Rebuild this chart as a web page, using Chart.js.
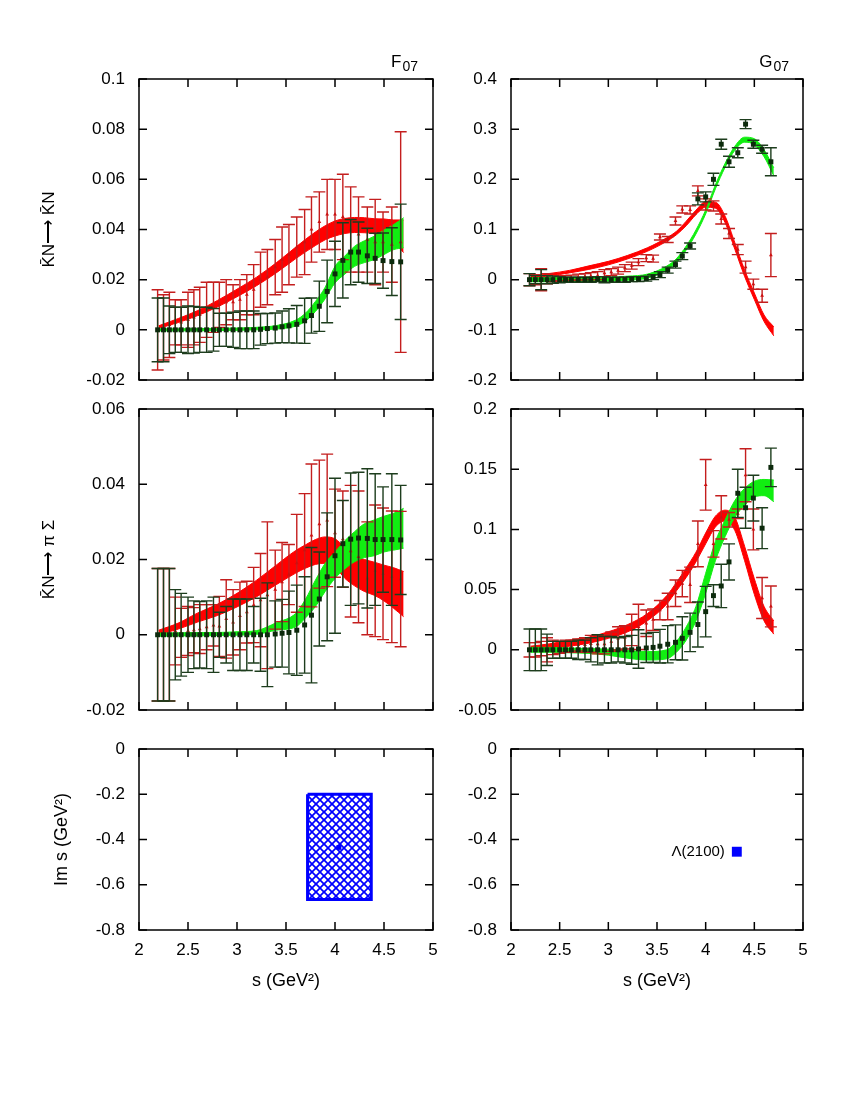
<!DOCTYPE html>
<html>
<head>
<meta charset="utf-8">
<script src="https://cdn.jsdelivr.net/npm/chart.js@4.4.1/dist/chart.umd.min.js"></script>
<style>
  body { margin: 0; background: #fff; }
  #page { position: relative; width: 850px; height: 1100px; }
  #page canvas { position: absolute; left: 0; top: 0; }
</style>
</head>
<body>
<div id="page">
  <canvas id="fNN" width="850" height="1100"></canvas>
  <canvas id="gNN" width="850" height="1100"></canvas>
  <canvas id="fPS" width="850" height="1100"></canvas>
  <canvas id="gPS" width="850" height="1100"></canvas>
  <canvas id="fPole" width="850" height="1100"></canvas>
  <canvas id="gPole" width="850" height="1100"></canvas>
</div>
<script>
// energies of the data points (s in GeV^2) and of the band samples
var sPoints = [2.19, 2.25, 2.31, 2.37, 2.43, 2.50, 2.56, 2.62, 2.69, 2.76, 2.82, 2.89, 2.96, 3.03, 3.10, 3.17, 3.24, 3.31,
  3.39, 3.46, 3.53, 3.61, 3.69, 3.76, 3.84, 3.92, 4.00, 4.08, 4.16, 4.24, 4.33, 4.41, 4.49, 4.58, 4.67];
var sBand = [2.2, 2.4, 2.6, 2.8, 3.0, 3.2, 3.4, 3.6, 3.7, 3.8, 3.9, 4.0, 4.1, 4.2, 4.3, 4.4, 4.5, 4.6, 4.7];

// F07, KbarN -> KbarN
var fNNRed = [0, 0.001, 0.002, 0.003, 0.003, 0.004, 0.005, 0.006, 0.008, 0.009, 0.010, 0.011, 0.011, 0.012, 0.014, 0.016, 0.020, 0.021,
  0.025, 0.028, 0.030, 0.033, 0.035, 0.040, 0.043, 0.046, 0.046, 0.045, 0.040, 0.038, 0.036, 0.035, 0.035, 0.034, 0.035];
var fNNRedErr = [0.016, 0.013, 0.013, 0.009, 0.009, 0.011, 0.011, 0.011, 0.011, 0.010, 0.009, 0.009, 0.007, 0.008, 0.008, 0.010, 0.011, 0.011,
  0.011, 0.013, 0.012, 0.012, 0.013, 0.013, 0.012, 0.014, 0.014, 0.017, 0.017, 0.015, 0.013, 0.017, 0.012, 0.015, 0.044];
var fNNGreen = [0, 0, 0, 0, 0, 0, 0, 0, 0, 0, 0, 0, 0, 0, 0, 0, 0.0002, 0.0005,
  0.0007, 0.0012, 0.0016, 0.0022, 0.0036, 0.0057, 0.0094, 0.0153, 0.0223, 0.0277, 0.031, 0.031, 0.0295, 0.0285, 0.0276, 0.0272, 0.0271];
var fNNGreenErr = [0.0127, 0.0127, 0.0095, 0.009, 0.009, 0.0095, 0.0093, 0.009, 0.009, 0.0085, 0.0066, 0.0066, 0.007, 0.0075, 0.0075, 0.0075, 0.0063, 0.006,
  0.006, 0.0063, 0.0068, 0.0075, 0.009, 0.007, 0.010, 0.0125, 0.013, 0.015, 0.013, 0.012, 0.011, 0.010, 0.011, 0.0135, 0.023];
var fNNRedLo = [0.0006, 0.0029, 0.0057, 0.0091, 0.0132, 0.0176, 0.0227, 0.0284, 0.0311, 0.0336, 0.0359, 0.0374, 0.0384, 0.0388, 0.0387, 0.0383, 0.0368, 0.0348, 0.0308];
var fNNRedHi = [0.0016, 0.0045, 0.0077, 0.0117, 0.0162, 0.0210, 0.0267, 0.0330, 0.0361, 0.0390, 0.0415, 0.0434, 0.0444, 0.0448, 0.0447, 0.0443, 0.0442, 0.0438, 0.0438];
var fNNGreenLo = [-0.0004, -0.0004, -0.0004, -0.0003, -0.0002, 0.0000, 0.0003, 0.0015, 0.0035, 0.0073, 0.0124, 0.0187, 0.0222, 0.0253, 0.0268, 0.0280, 0.0300, 0.0320, 0.0327];
var fNNGreenHi = [0.0004, 0.0004, 0.0005, 0.0006, 0.0007, 0.0010, 0.0017, 0.0039, 0.0067, 0.0113, 0.0170, 0.0253, 0.0294, 0.0333, 0.0355, 0.0373, 0.0398, 0.0420, 0.0447];

// G07, KbarN -> KbarN
var gNNRed = [0, 0, 0, 0.002, 0.002, 0.003, 0.003, 0.004, 0.005, 0.006, 0.007, 0.008, 0.013, 0.015, 0.018, 0.023, 0.028, 0.035,
  0.043, 0.042, 0.085, 0.080, 0.117, 0.140, 0.139, 0.177, 0.150, 0.147, 0.121, 0.092, 0.060, 0.025, -0.009, -0.032, 0.049];
var gNNRedErr = [0.012, 0.010, 0.022, 0.010, 0.006, 0.005, 0.005, 0.005, 0.006, 0.006, 0.007, 0.008, 0.007, 0.007, 0.007, 0.007, 0.007, 0.007,
  0.007, 0.007, 0.006, 0.006, 0.008, 0.007, 0.008, 0.010, 0.011, 0.010, 0.010, 0.010, 0.010, 0.012, 0.010, 0.013, 0.043];
var gNNGreen = [0, 0, 0, 0, 0, 0, 0, 0, 0, 0, 0, 0.001, 0, 0, 0, 0, 0.001, 0.001,
  0.002, 0.005, 0.010, 0.019, 0.030, 0.047, 0.067, 0.161, 0.165, 0.200, 0.270, 0.235, 0.253, 0.310, 0.270, 0.260, 0.235];
var gNNGreenErr = [0.012, 0.008, 0.020, 0.008, 0.007, 0.006, 0.005, 0.005, 0.005, 0.005, 0.005, 0.005, 0.006, 0.005, 0.005, 0.005, 0.005, 0.005,
  0.005, 0.005, 0.006, 0.006, 0.007, 0.007, 0.006, 0.012, 0.010, 0.012, 0.010, 0.011, 0.010, 0.009, 0.008, 0.008, 0.028];
var gNNRedLo = [0.0035, 0.0075, 0.0135, 0.0205, 0.0295, 0.0415, 0.0565, 0.0765, 0.0895, 0.1075, 0.1295, 0.1445, 0.1425, 0.1135, 0.0605, 0.0065, -0.0395, -0.0835, -0.112];
var gNNRedHi = [0.0085, 0.0125, 0.0185, 0.0275, 0.0365, 0.0485, 0.0635, 0.0835, 0.0965, 0.1165, 0.1385, 0.1555, 0.1545, 0.1265, 0.0735, 0.0195, -0.0265, -0.0705, -0.094];
var gNNGreenLo = [-0.004, -0.004, -0.004, -0.003, -0.003, -0.001, 0.003, 0.019, 0.034, 0.059, 0.091, 0.131, 0.181, 0.224, 0.258, 0.274, 0.269, 0.245, 0.207];
var gNNGreenHi = [0.004, 0.004, 0.004, 0.005, 0.005, 0.007, 0.011, 0.027, 0.042, 0.067, 0.099, 0.139, 0.189, 0.232, 0.266, 0.284, 0.281, 0.259, 0.223];

// F07, KbarN -> pi Sigma
var fPSRed = [0, 0, 0, 0.0010, 0.0005, 0.0010, 0.0012, 0.0015, 0.0020, 0.0025, 0.0022, 0.0042, 0.0033, 0.0050, 0.0060, 0.0079, 0.0092, 0.0105,
  0.0120, 0.0140, 0.0160, 0.0190, 0.0225, 0.0264, 0.0294, 0.0304, 0.0270, 0.0254, 0.0222, 0.0207, 0.0150, 0.0170, 0.0162, 0.0154, 0.0148];
var fPSRedErr = [0.0176, 0.0176, 0.0176, 0.009, 0.0065, 0.0065, 0.006, 0.0065, 0.006, 0.0055, 0.008, 0.0104, 0.0087, 0.009, 0.0082, 0.010, 0.0124, 0.0195,
  0.0105, 0.0105, 0.008, 0.013, 0.015, 0.019, 0.017, 0.0176, 0.0117, 0.0128, 0.0175, 0.0175, 0.015, 0.0175, 0.0175, 0.0175, 0.018];
var fPSGreen = [0, 0, 0, 0, 0, 0, 0, 0, 0, 0, 0, 0, 0, 0, 0, 0, 0, 0,
  0.0002, 0.0004, 0.0006, 0.0012, 0.0026, 0.0052, 0.0095, 0.0154, 0.021, 0.0242, 0.0254, 0.0257, 0.0256, 0.0253, 0.0253, 0.0253, 0.0252];
var fPSGreenErr = [0.0176, 0.0176, 0.0176, 0.012, 0.011, 0.010, 0.009, 0.0088, 0.009, 0.010, 0.006, 0.0075, 0.0095, 0.0095, 0.0095, 0.0075, 0.0097, 0.0138,
  0.0088, 0.009, 0.011, 0.012, 0.0128, 0.018, 0.0125, 0.017, 0.0206, 0.0115, 0.0176, 0.0175, 0.0185, 0.0175, 0.014, 0.0175, 0.0145];
var fPSRedLo = [0.0000, 0.0015, 0.0034, 0.0051, 0.0074, 0.0101, 0.0133, 0.0164, 0.0177, 0.0187, 0.0190, 0.0180, 0.0150, 0.0130, 0.0115, 0.0105, 0.0090, 0.0070, 0.0048];
var fPSRedHi = [0.0012, 0.0031, 0.0058, 0.0081, 0.0110, 0.0145, 0.0185, 0.0224, 0.0239, 0.0253, 0.0260, 0.0255, 0.0232, 0.0210, 0.0200, 0.0193, 0.0185, 0.0178, 0.0168];
var fPSGreenLo = [-0.0004, -0.0003, -0.0003, -0.0002, -0.0001, 0.0001, 0.0012, 0.0021, 0.0045, 0.0075, 0.0115, 0.0150, 0.0175, 0.0194, 0.0205, 0.0210, 0.0220, 0.0225, 0.0230];
var fPSGreenHi = [0.0004, 0.0005, 0.0006, 0.0006, 0.0008, 0.0011, 0.0032, 0.0057, 0.0095, 0.0145, 0.0190, 0.0220, 0.0250, 0.0274, 0.0295, 0.0305, 0.0315, 0.0323, 0.0336];

// G07, KbarN -> pi Sigma
var gPSRed = [0, 0, 0.001, 0.0, 0.002, 0.002, 0.003, 0.003, 0.004, 0.004, 0.005, 0.0046, 0.0046, 0.0068, 0.0095, 0.0104, 0.0165, 0.019,
  0.022, 0.025, 0.033, 0.036, 0.047, 0.055, 0.054, 0.088, 0.137, 0.088, 0.110, 0.108, 0.113, 0.145, 0.100, 0.043, 0.036];
var gPSRedErr = [0.006, 0.006, 0.006, 0.010, 0.006, 0.005, 0.005, 0.005, 0.005, 0.006, 0.007, 0.008, 0.008, 0.008, 0.0097, 0.0097, 0.013, 0.0188,
  0.011, 0.009, 0.008, 0.011, 0.011, 0.011, 0.0147, 0.019, 0.021, 0.011, 0.018, 0.006, 0.004, 0.022, 0.017, 0.017, 0.017];
var gPSGreen = [0, 0, 0, 0, 0, 0, 0, 0, 0, 0, 0, 0, 0, 0, 0, 0, 0, 0.0007,
  0.0015, 0.002, 0.003, 0.0046, 0.0062, 0.0095, 0.0145, 0.021, 0.0317, 0.045, 0.053, 0.073, 0.130, 0.118, 0.126, 0.101, 0.1515];
var gPSGreenErr = [0.0173, 0.0173, 0.0173, 0.013, 0.007, 0.007, 0.007, 0.007, 0.008, 0.008, 0.010, 0.0125, 0.011, 0.011, 0.010, 0.011, 0.012, 0.016,
  0.012, 0.0125, 0.014, 0.0155, 0.0145, 0.018, 0.016, 0.0187, 0.021, 0.009, 0.018, 0.015, 0.020, 0.017, 0.019, 0.017, 0.016];
var gPSRedLo = [-0.001, 0.001, 0.003, 0.0055, 0.0095, 0.015, 0.024, 0.038, 0.049, 0.060, 0.073, 0.088, 0.102, 0.107, 0.099, 0.074, 0.046, 0.024, 0.013];
var gPSRedHi = [0.003, 0.005, 0.008, 0.0105, 0.015, 0.021, 0.030, 0.045, 0.056, 0.068, 0.081, 0.097, 0.111, 0.116, 0.110, 0.086, 0.059, 0.036, 0.024];
var gPSGreenLo = [-0.002, -0.002, -0.0025, -0.003, -0.0045, -0.007, -0.0085, -0.0075, -0.002, 0.008, 0.024, 0.047, 0.074, 0.094, 0.110, 0.120, 0.127, 0.128, 0.123];
var gPSGreenHi = [0.002, 0.002, 0.0015, 0.001, 0.0005, -0.0005, -0.0015, 0.0, 0.007, 0.019, 0.036, 0.0635, 0.090, 0.108, 0.124, 0.134, 0.140, 0.1415, 0.141];

// pole positions (Re s, Im s)
var poleBoxS = [3.72, 4.37];
var poleBoxIm = [-0.665, -0.2];
var poleF = { s: 4.04, im: -0.435 };
var poleG = { s: 4.32, im: -0.454 };

var RED_BAND = '#ff0000', GREEN_BAND = '#11ee11';
var RED_BAR = '#c41e1e', GREEN_BAR = '#1d3d1d';
var BLUE = '#0000ff';

Chart.defaults.font.family = '"Liberation Sans", Arial, Helvetica, sans-serif';
Chart.defaults.color = '#000';

function fmt(v) {
  return String(Math.round(v * 1000) / 1000);
}

function pts(xs, ys) {
  return xs.map(function (x, i) { return { x: x, y: ys[i] }; });
}

// error bars with caps, drawn just before the markers of their dataset
var errorBars = {
  id: 'errorBars',
  beforeDatasetDraw: function (chart, args) {
    var ds = chart.data.datasets[args.index];
    if (!ds.errors) return;
    var y = chart.scales.y, ctx = chart.ctx;
    ctx.save();
    ctx.strokeStyle = ds.errorColor;
    ctx.lineWidth = 1.4;
    args.meta.data.forEach(function (pt, i) {
      var v = ds.data[i].y, e = ds.errors[i];
      var top = y.getPixelForValue(v + e), bot = y.getPixelForValue(v - e);
      ctx.beginPath();
      ctx.moveTo(pt.x, top); ctx.lineTo(pt.x, bot);
      ctx.moveTo(pt.x - 6, top); ctx.lineTo(pt.x + 6, top);
      ctx.moveTo(pt.x - 6, bot); ctx.lineTo(pt.x + 6, bot);
      ctx.stroke();
    });
    ctx.restore();
  }
};

// gnuplot style box with inward ticks on all four sides
var frame = {
  id: 'frame',
  afterDraw: function (chart) {
    var a = chart.chartArea, ctx = chart.ctx, sx = chart.scales.x, sy = chart.scales.y;
    ctx.save();
    ctx.strokeStyle = '#000';
    ctx.lineWidth = 1.5;
    ctx.strokeRect(a.left, a.top, a.right - a.left, a.bottom - a.top);
    ctx.beginPath();
    sx.ticks.forEach(function (t) {
      var px = sx.getPixelForValue(t.value);
      ctx.moveTo(px, a.bottom); ctx.lineTo(px, a.bottom - 8);
      ctx.moveTo(px, a.top); ctx.lineTo(px, a.top + 8);
    });
    sy.ticks.forEach(function (t) {
      var py = sy.getPixelForValue(t.value);
      ctx.moveTo(a.left, py); ctx.lineTo(a.left + 8, py);
      ctx.moveTo(a.right, py); ctx.lineTo(a.right - 8, py);
    });
    ctx.stroke();
    ctx.restore();
  }
};

// panel titles and labels
var panelText = {
  id: 'panelText',
  afterDraw: function (chart, args, opts) {
    var ctx = chart.ctx, fam = Chart.defaults.font.family;
    ctx.save();
    ctx.fillStyle = '#000';
    (opts.items || []).forEach(function (it) {
      if (it.sub) {
        ctx.font = it.subSize + 'px ' + fam;
        var wSub = ctx.measureText(it.sub).width;
        ctx.textAlign = 'left';
        ctx.textBaseline = 'alphabetic';
        ctx.fillText(it.sub, it.right - wSub, it.base + 4);
        ctx.font = it.size + 'px ' + fam;
        ctx.textAlign = 'right';
        ctx.fillText(it.text, it.right - wSub - 1, it.base);
      } else if (it.at) {
        ctx.font = it.size + 'px ' + fam;
        ctx.textAlign = 'right';
        ctx.textBaseline = 'middle';
        ctx.fillText(it.text, chart.scales.x.getPixelForValue(it.at.s) + it.dx,
          chart.scales.y.getPixelForValue(it.at.im));
      } else {
        ctx.font = it.size + 'px ' + fam;
        ctx.textAlign = 'right';
        ctx.textBaseline = 'alphabetic';
        ctx.fillText(it.text, it.right, it.base);
      }
    });
    ctx.restore();
  }
};

function band(lo, hi, color) {
  return [
    { data: pts(sBand, lo), borderColor: color, borderWidth: 1, pointRadius: 0, fill: false,
      cubicInterpolationMode: 'monotone', order: color === RED_BAND ? 4 : 3 },
    { data: pts(sBand, hi), borderColor: color, borderWidth: 1, pointRadius: 0, fill: '-1',
      backgroundColor: color, cubicInterpolationMode: 'monotone', order: color === RED_BAND ? 4 : 3 }
  ];
}

function amplitudeSets(redV, redE, grnV, grnE, redLo, redHi, grnLo, grnHi) {
  return band(redLo, redHi, RED_BAND).concat(band(grnLo, grnHi, GREEN_BAND), [
    { data: pts(sPoints, redV), errors: redE, errorColor: RED_BAR, showLine: false,
      pointStyle: 'triangle', pointRadius: 2.2, backgroundColor: '#cc1111', borderWidth: 0, order: 2 },
    { data: pts(sPoints, grnV), errors: grnE, errorColor: GREEN_BAR, showLine: false,
      pointStyle: 'rect', pointRadius: 3.5, backgroundColor: '#0c2a0c', borderWidth: 0, order: 1 }
  ]);
}

var COL_L = [139, 433], COL_R = [511, 803];
var ROW_TOP = [79, 380], ROW_MID = [409, 710], ROW_BOT = [749, 930];

function panel(id, col, row, yMin, yMax, yStep, datasets, o) {
  var xH = o.showX ? 70 : 0;
  return new Chart(document.getElementById(id), {
    type: 'line',
    data: { datasets: datasets },
    options: {
      responsive: false,
      animation: false,
      events: [],
      devicePixelRatio: 1,
      layout: { padding: { left: col[0] - 100, right: 850 - col[1], top: row[0], bottom: 1100 - row[1] - xH } },
      plugins: {
        legend: { display: false },
        tooltip: { enabled: false },
        panelText: { items: o.text || [] }
      },
      scales: {
        x: {
          type: 'linear', min: 2, max: 5,
          ticks: { stepSize: 0.5, display: !!o.showX, padding: 10, callback: fmt, font: { size: 17 }, maxRotation: 0, autoSkip: false },
          grid: { display: false, drawTicks: false },
          border: { display: false },
          title: { display: !!o.showX, text: 's (GeV\u00b2)', font: { size: 18 }, padding: { top: 0, bottom: 8 } },
          afterFit: function (s) { s.height = xH; }
        },
        y: {
          type: 'linear', min: yMin, max: yMax,
          ticks: { stepSize: yStep, padding: 14, callback: fmt, font: { size: 17 } },
          grid: { display: false, drawTicks: false },
          border: { display: false },
          title: o.yTitle ? { display: true, text: o.yTitle, font: { size: o.yTitleSize }, padding: { top: o.yTitlePad, bottom: 0 } } : { display: false },
          afterFit: function (s) { s.width = 100; }
        }
      }
    },
    plugins: [errorBars, frame, panelText]
  });
}

panel('fNN', COL_L, ROW_TOP, -0.02, 0.1, 0.02,
  amplitudeSets(fNNRed, fNNRedErr, fNNGreen, fNNGreenErr, fNNRedLo, fNNRedHi, fNNGreenLo, fNNGreenHi),
  { yTitle: 'K\u0304N\u27f6 K\u0304N', yTitleSize: 17, yTitlePad: 0,
    text: [{ text: 'F', sub: '07', size: 17, subSize: 14, right: 418, base: 67 }] });

panel('gNN', COL_R, ROW_TOP, -0.2, 0.4, 0.1,
  amplitudeSets(gNNRed, gNNRedErr, gNNGreen, gNNGreenErr, gNNRedLo, gNNRedHi, gNNGreenLo, gNNGreenHi),
  { text: [{ text: 'G', sub: '07', size: 17, subSize: 14, right: 789, base: 67 }] });

panel('fPS', COL_L, ROW_MID, -0.02, 0.06, 0.02,
  amplitudeSets(fPSRed, fPSRedErr, fPSGreen, fPSGreenErr, fPSRedLo, fPSRedHi, fPSGreenLo, fPSGreenHi),
  { yTitle: 'K\u0304N\u27f6 \u03c0 \u03a3', yTitleSize: 17, yTitlePad: 0 });

panel('gPS', COL_R, ROW_MID, -0.05, 0.2, 0.05,
  amplitudeSets(gPSRed, gPSRedErr, gPSGreen, gPSGreenErr, gPSRedLo, gPSRedHi, gPSGreenLo, gPSGreenHi),
  {});

// cross-hatch fill for the pole uncertainty box
function hatchPattern(ctx) {
  var c = document.createElement('canvas');
  c.width = 8; c.height = 8;
  var g = c.getContext('2d');
  g.fillStyle = '#fff';
  g.fillRect(0, 0, 8, 8);
  g.strokeStyle = BLUE;
  g.lineWidth = 1.7;
  for (var k = -8; k <= 8; k += 8) {
    g.beginPath(); g.moveTo(k, 0); g.lineTo(k + 8, 8); g.stroke();
    g.beginPath(); g.moveTo(k + 8, 0); g.lineTo(k, 8); g.stroke();
  }
  return ctx.createPattern(c, 'repeat');
}

var boxS = [poleBoxS[0], poleBoxS[1], poleBoxS[1], poleBoxS[0], poleBoxS[0]];
var boxIm = [poleBoxIm[1], poleBoxIm[1], poleBoxIm[0], poleBoxIm[0], poleBoxIm[1]];

panel('fPole', COL_L, ROW_BOT, -0.8, 0, 0.2, [
  { data: pts(boxS, boxIm), borderColor: BLUE, borderWidth: 3, pointRadius: 0, tension: 0,
    fill: 'shape', backgroundColor: hatchPattern(document.getElementById('fPole').getContext('2d')), order: 2 },
  { data: [{ x: poleF.s, y: poleF.im }], showLine: false, pointStyle: 'rect', pointRadius: 3.5,
    backgroundColor: BLUE, borderWidth: 0, order: 1 }
], { showX: true, yTitle: 'Im s (GeV\u00b2)', yTitleSize: 18, yTitlePad: 12 });

panel('gPole', COL_R, ROW_BOT, -0.8, 0, 0.2, [
  { data: [{ x: poleG.s, y: poleG.im }], showLine: false, pointStyle: 'rect', pointRadius: 7,
    backgroundColor: BLUE, borderWidth: 0 }
], { showX: true,
  text: [
    { text: 'Pole positions', size: 15, right: 803, base: 741 },
    { text: '\u039b(2100)', size: 15, at: poleG, dx: -12 }
  ] });
</script>
</body>
</html>
